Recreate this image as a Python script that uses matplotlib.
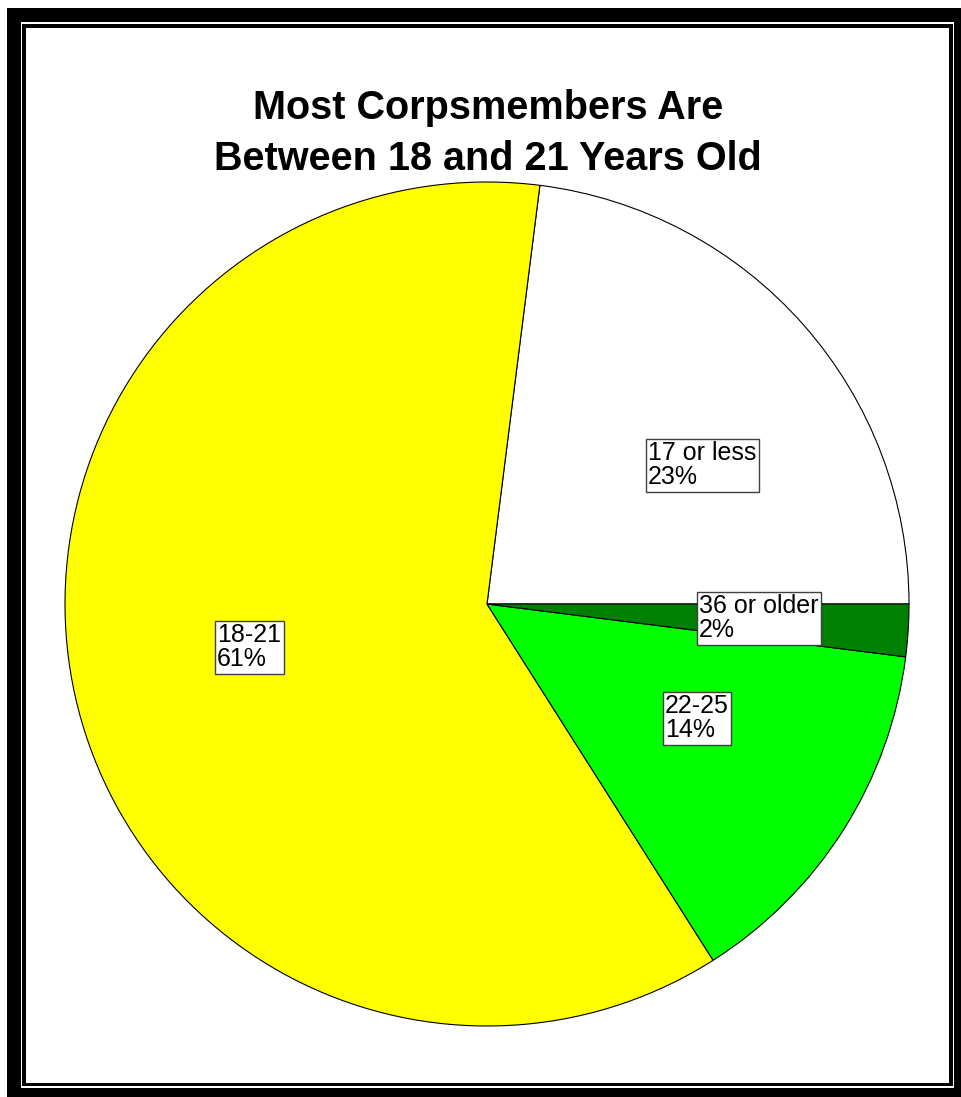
import matplotlib
matplotlib.use("Agg")
import matplotlib.pyplot as plt
from matplotlib.patches import Rectangle

# data
age_groups = ["17 or less", "18-21", "22-25", "36 or older"]
shares = [23, 61, 14, 2]
colors = ["#ffffff", "#ffff00", "#00ff00", "#008000"]
title_lines = ["Most Corpsmembers Are", "Between 18 and 21 Years Old"]

# label box top-left corners in pixels (y measured from top)
label_pos = [(648, 441), (217, 623), (665, 694), (699, 594)]

W, H = 961, 1097
plt.rcParams["font.family"] = ["Liberation Sans", "DejaVu Sans"]

fig = plt.figure(figsize=(W / 100, H / 100), dpi=100)
ax = fig.add_axes([0, 0, 1, 1])


def ypx(y):
    return H - y


# double frame
def rect(x0, y0, x1, y1, c, z):
    ax.add_patch(Rectangle((x0, ypx(y1)), x1 - x0, y1 - y0, facecolor=c,
                           edgecolor="none", zorder=z))


rect(7, 8, W + 20, H + 20, "black", 0)
rect(21, 22, 954, 1088, "white", 0.1)
rect(22, 24, 953, 1086, "black", 0.2)
rect(26, 28, 949, 1083, "white", 0.3)

wedges, _ = ax.pie(shares, colors=colors, startangle=0, counterclock=True,
                   center=(487, ypx(604)), radius=422,
                   wedgeprops=dict(edgecolor="black", linewidth=0.8),
                   frame=True)
for w in wedges:
    w.set_zorder(2)

for (x, y), name, pct in zip(label_pos, age_groups, shares):
    ax.text(x, ypx(y), f"{name}\n{pct}%", ha="left", va="top", fontsize=18,
            linespacing=1.0, zorder=5,
            bbox=dict(boxstyle="square,pad=0.1", facecolor="white",
                      edgecolor="#404040", linewidth=1))

ax.text(488, ypx(119), title_lines[0], ha="center", va="baseline",
        fontsize=28.5, fontweight="bold", zorder=5)
ax.text(488, ypx(170), title_lines[1], ha="center", va="baseline",
        fontsize=28.5, fontweight="bold", zorder=5)

ax.set_xlim(0, W)
ax.set_ylim(0, H)
ax.set_aspect("auto")
ax.axis("off")

fig.savefig("out.png", dpi=100)
